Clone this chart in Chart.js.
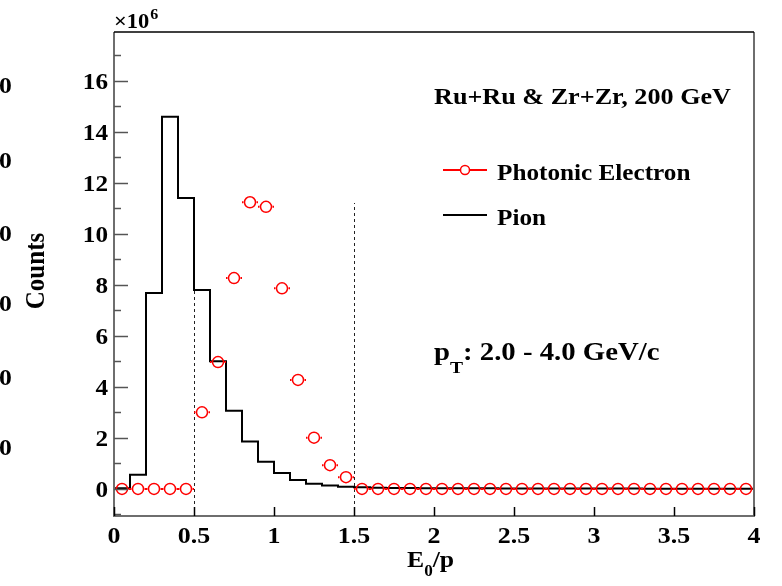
<!DOCTYPE html>
<html>
<head>
<meta charset="utf-8">
<script src="https://cdn.jsdelivr.net/npm/chart.js@4.4.0/dist/chart.umd.min.js"></script>
<style>
  html, body { margin: 0; padding: 0; background: #fff; }
  #wrap { width: 782px; height: 586px; }
</style>
</head>
<body>
<div id="wrap"><canvas id="c" width="782" height="586"></canvas></div>
<script>
// E0/p distributions, counts in units of 1e6, bins of 0.1 from 0 to 4
const binWidth = 0.1;
const pionCounts = [
  0.03, 0.56, 7.68, 14.58, 11.40, 7.79, 5.00, 3.06, 1.86, 1.07,
  0.62, 0.35, 0.20, 0.13, 0.09, 0.07, 0.05, 0.04, 0.035, 0.03,
  0.03, 0.025, 0.025, 0.025, 0.02, 0.02, 0.02, 0.02, 0.02, 0.015,
  0.015, 0.015, 0.015, 0.005, 0.005, 0.005, 0.005, 0.005, 0.005, 0.005
];
const electronCounts = [
  0, 0, 0, 0, 0, 3.00, 4.97, 8.26, 11.23, 11.05,
  7.86, 4.27, 2.01, 0.93, 0.46, 0, 0, 0, 0, 0,
  0, 0, 0, 0, 0, 0, 0, 0, 0, 0,
  0, 0, 0, 0, 0, 0, 0, 0, 0, 0
];
const xTicks = [0, 0.5, 1, 1.5, 2, 2.5, 3, 3.5, 4];
const yTicks = [0, 2, 4, 6, 8, 10, 12, 14, 16];
const cutValues = [0.5, 1.5];
const cutTop = 11.2;

const RED = '#ff0000';
const FONT = '"Liberation Serif", "Times New Roman", serif';

// histogram as step line: one point per lower bin edge plus the closing edge
const pionSteps = pionCounts.map((v, i) => ({ x: i * binWidth, y: v }));
pionSteps.push({ x: pionCounts.length * binWidth, y: pionCounts[pionCounts.length - 1] });
const electronPoints = electronCounts.map((v, i) => ({ x: (i + 0.5) * binWidth, y: v }));

// bold serif text, optionally widened by sx
function wideText(ctx, str, x, y, size, align, sx) {
  sx = sx || 1.07;
  ctx.save();
  ctx.font = 'bold ' + size + 'px ' + FONT;
  const w = ctx.measureText(str).width * sx;
  let left = x;
  if (align === 'center') left = x - w / 2;
  if (align === 'right') left = x - w;
  ctx.translate(left, y);
  ctx.scale(sx, 1);
  ctx.textAlign = 'left';
  ctx.textBaseline = 'alphabetic';
  ctx.fillStyle = '#000';
  ctx.fillText(str, 0, 0);
  ctx.restore();
  return w;
}

const cutLinesPlugin = {
  id: 'cutLines',
  beforeDatasetsDraw(chart) {
    const { ctx, scales: { x, y } } = chart;
    ctx.save();
    ctx.strokeStyle = '#222';
    ctx.lineWidth = 1;
    ctx.setLineDash([3, 3]);
    cutValues.forEach(v => {
      const px = Math.round(x.getPixelForValue(v)) + 0.5;
      ctx.beginPath();
      ctx.moveTo(px, y.getPixelForValue(y.min));
      ctx.lineTo(px, y.getPixelForValue(cutTop));
      ctx.stroke();
    });
    ctx.restore();
  }
};

const errorBarPlugin = {
  id: 'errorBars',
  afterDatasetsDraw(chart) {
    const { ctx, scales: { x, y } } = chart;
    const r = 6.5;
    ctx.save();
    ctx.strokeStyle = RED;
    ctx.lineWidth = 2;
    electronPoints.forEach(p => {
      const cx = x.getPixelForValue(p.x);
      const cy = y.getPixelForValue(p.y);
      const lo = x.getPixelForValue(p.x - binWidth / 2);
      const hi = x.getPixelForValue(p.x + binWidth / 2);
      ctx.beginPath();
      ctx.moveTo(lo, cy); ctx.lineTo(cx - r, cy);
      ctx.moveTo(cx + r, cy); ctx.lineTo(hi, cy);
      ctx.stroke();
    });
    ctx.restore();
  }
};

const framePlugin = {
  id: 'frame',
  afterDraw(chart) {
    const { ctx, chartArea: a, scales: { x, y } } = chart;
    ctx.save();
    // axes and box
    ctx.lineWidth = 2;
    ctx.strokeStyle = '#6e6e6e';
    ctx.beginPath();
    ctx.moveTo(a.left, a.top); ctx.lineTo(a.left, a.bottom); ctx.lineTo(a.right, a.bottom); ctx.lineTo(a.right, a.top);
    ctx.stroke();
    ctx.strokeStyle = '#000';
    ctx.lineWidth = 1.5;
    ctx.beginPath();
    ctx.moveTo(a.left, a.top); ctx.lineTo(a.right, a.top);
    ctx.stroke();

    // y ticks, major every 2 and minor every 1
    ctx.strokeStyle = '#555';
    ctx.lineWidth = 1.5;
    for (let v = Math.ceil(y.min); v <= y.max; v++) {
      const py = Math.round(y.getPixelForValue(v)) + 0.5;
      const len = v % 2 === 0 ? 14 : 7;
      ctx.beginPath();
      ctx.moveTo(a.left, py); ctx.lineTo(a.left + len, py);
      ctx.stroke();
    }
    // x ticks
    ctx.strokeStyle = '#000';
    xTicks.forEach(v => {
      const px = Math.round(x.getPixelForValue(v)) + 0.5;
      ctx.beginPath();
      ctx.moveTo(px, a.bottom); ctx.lineTo(px, a.bottom - 9);
      ctx.stroke();
    });
    ctx.restore();

    // tick labels
    yTicks.forEach(v => wideText(ctx, String(v), a.left - 6, y.getPixelForValue(v) + 8, 24, 'right', 1.05));
    xTicks.forEach(v => wideText(ctx, String(v), x.getPixelForValue(v), 543, 24, 'center', 1.08));

    // axis titles
    let w = wideText(ctx, '\u00d710', a.left, 28, 21, 'left');
    wideText(ctx, '6', a.left + w + 1, 19, 15, 'left');

    w = wideText(ctx, 'E', 407, 567, 24, 'left');
    const w0 = wideText(ctx, '0', 407 + w, 576, 16, 'left');
    wideText(ctx, '/p', 407 + w + w0, 567, 24, 'left');

    ctx.save();
    ctx.translate(44, 271);
    ctx.rotate(-Math.PI / 2);
    ctx.scale(1, 1.08);
    ctx.font = 'bold 25px ' + FONT;
    ctx.textAlign = 'center';
    ctx.fillStyle = '#000';
    ctx.fillText('Counts', 0, 0);
    ctx.restore();

    // labels
    wideText(ctx, 'Ru+Ru & Zr+Zr, 200 GeV', 434, 104, 24, 'left', 1.09);
    w = wideText(ctx, 'p', 434, 360, 25, 'left', 1.15);
    const wt = wideText(ctx, 'T', 434 + w, 373, 17, 'left', 1.15);
    wideText(ctx, ': 2.0 - 4.0 GeV/c', 434 + w + wt, 360, 25, 'left', 1.15);

    // legend
    ctx.save();
    ctx.lineWidth = 2;
    ctx.strokeStyle = RED;
    ctx.beginPath();
    ctx.moveTo(443, 170); ctx.lineTo(460, 170);
    ctx.moveTo(470, 170); ctx.lineTo(487, 170);
    ctx.stroke();
    ctx.lineWidth = 1.5;
    ctx.beginPath();
    ctx.arc(465, 170, 4.5, 0, Math.PI * 2);
    ctx.stroke();
    ctx.strokeStyle = '#000';
    ctx.lineWidth = 2;
    ctx.beginPath();
    ctx.moveTo(443, 215); ctx.lineTo(487, 215);
    ctx.stroke();
    ctx.restore();
    wideText(ctx, 'Photonic Electron', 497, 180, 24, 'left', 1.05);
    wideText(ctx, 'Pion', 497, 225, 24, 'left', 1.05);

    // clipped tick labels of the neighbouring pad
    [85, 160, 233, 303, 377, 447].forEach(cy => wideText(ctx, '0', -1, cy + 8, 24, 'left'));
  }
};

new Chart(document.getElementById('c'), {
  data: {
    datasets: [
      {
        type: 'scatter',
        label: 'Photonic Electron',
        data: electronPoints,
        pointStyle: 'circle',
        pointRadius: 5.5,
        pointBorderWidth: 1.5,
        borderColor: RED,
        backgroundColor: 'rgba(0,0,0,0)',
        order: 1
      },
      {
        type: 'line',
        label: 'Pion',
        data: pionSteps,
        stepped: 'before',
        borderColor: '#000',
        borderWidth: 2,
        pointRadius: 0,
        fill: false,
        order: 2
      }
    ]
  },
  options: {
    responsive: false,
    animation: false,
    devicePixelRatio: 1,
    layout: { padding: { top: 32, right: 28, left: 0, bottom: 0 } },
    plugins: { legend: { display: false }, tooltip: { enabled: false } },
    scales: {
      x: {
        type: 'linear', min: 0, max: 4,
        grid: { display: false }, border: { display: false },
        ticks: { display: false },
        afterFit: s => { s.height = 70; }
      },
      y: {
        type: 'linear', min: -1.06, max: 17.9,
        grid: { display: false }, border: { display: false },
        ticks: { display: false },
        afterFit: s => { s.width = 114; }
      }
    }
  },
  plugins: [cutLinesPlugin, errorBarPlugin, framePlugin]
});
</script>
</body>
</html>
